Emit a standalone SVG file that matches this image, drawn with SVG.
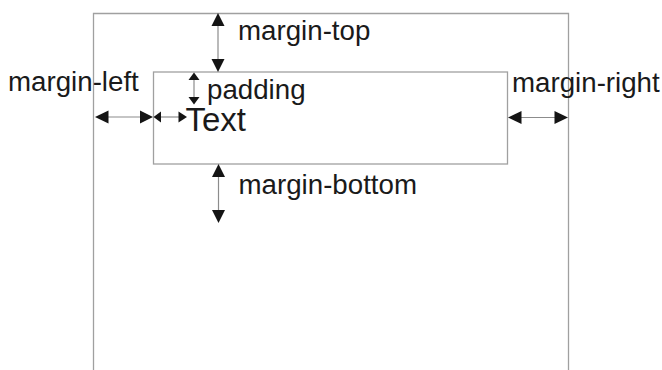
<svg xmlns="http://www.w3.org/2000/svg" width="662" height="370" viewBox="0 0 662 370">
<style>
.box{fill:none;stroke:#a0a0a0;stroke-width:1.3}
.shaft{stroke:#8c8c8c;stroke-width:1.2;fill:none}
.head{fill:#141414}
.lbl{font-family:"Liberation Sans",Arial,sans-serif;font-size:27.7px;fill:#1a1a1a}
</style>
<rect width="662" height="370" fill="#ffffff"/>
<g id="outer-box"><path class="box" d="M93.5,370 V13.5 H568.5 V370"/></g>
<g id="content-box"><rect class="box" x="153.5" y="72" width="354" height="92"/></g>
<g id="connectors">
  <line class="shaft" x1="218" y1="20" x2="218" y2="65"/>
  <path class="head" d="M218,13 L224.5,26 L211.5,26 Z"/>
  <path class="head" d="M218,72 L224.5,59 L211.5,59 Z"/>
  <line class="shaft" x1="218.5" y1="171" x2="218.5" y2="216"/>
  <path class="head" d="M218.5,164 L225,177 L212,177 Z"/>
  <path class="head" d="M218.5,223 L225,210 L212,210 Z"/>
  <line class="shaft" x1="100" y1="117" x2="147" y2="117"/>
  <path class="head" d="M95,117 L108.5,110.5 L108.5,123.5 Z"/>
  <path class="head" d="M153,117 L140,110.5 L140,123.5 Z"/>
  <line class="shaft" x1="513" y1="117.5" x2="562" y2="117.5"/>
  <path class="head" d="M508,117.5 L521.5,111 L521.5,124 Z"/>
  <path class="head" d="M568,117.5 L554.5,111 L554.5,124 Z"/>
  <line class="shaft" x1="157" y1="117" x2="183" y2="117"/>
  <path class="head" d="M153.5,117 L161,111.5 L161,122.5 Z"/>
  <path class="head" d="M187,117 L178.5,111.5 L178.5,122.5 Z"/>
  <line class="shaft" x1="194" y1="76" x2="194" y2="100"/>
  <path class="head" d="M194,72.5 L199.5,80 L188.5,80 Z"/>
  <path class="head" d="M194,104.5 L199.5,97 L188.5,97 Z"/>
</g>
<g id="labels">
  <text class="lbl" x="238" y="40">margin-top</text>
  <text class="lbl" x="8" y="91">margin-left</text>
  <text class="lbl" x="512" y="91.5">margin-right</text>
  <text class="lbl" x="207" y="99">padding</text>
  <text class="lbl" x="238.5" y="193.5">margin-bottom</text>
  <text class="lbl" x="185.5" y="131" style="font-size:33px">Text</text>
</g>
</svg>
